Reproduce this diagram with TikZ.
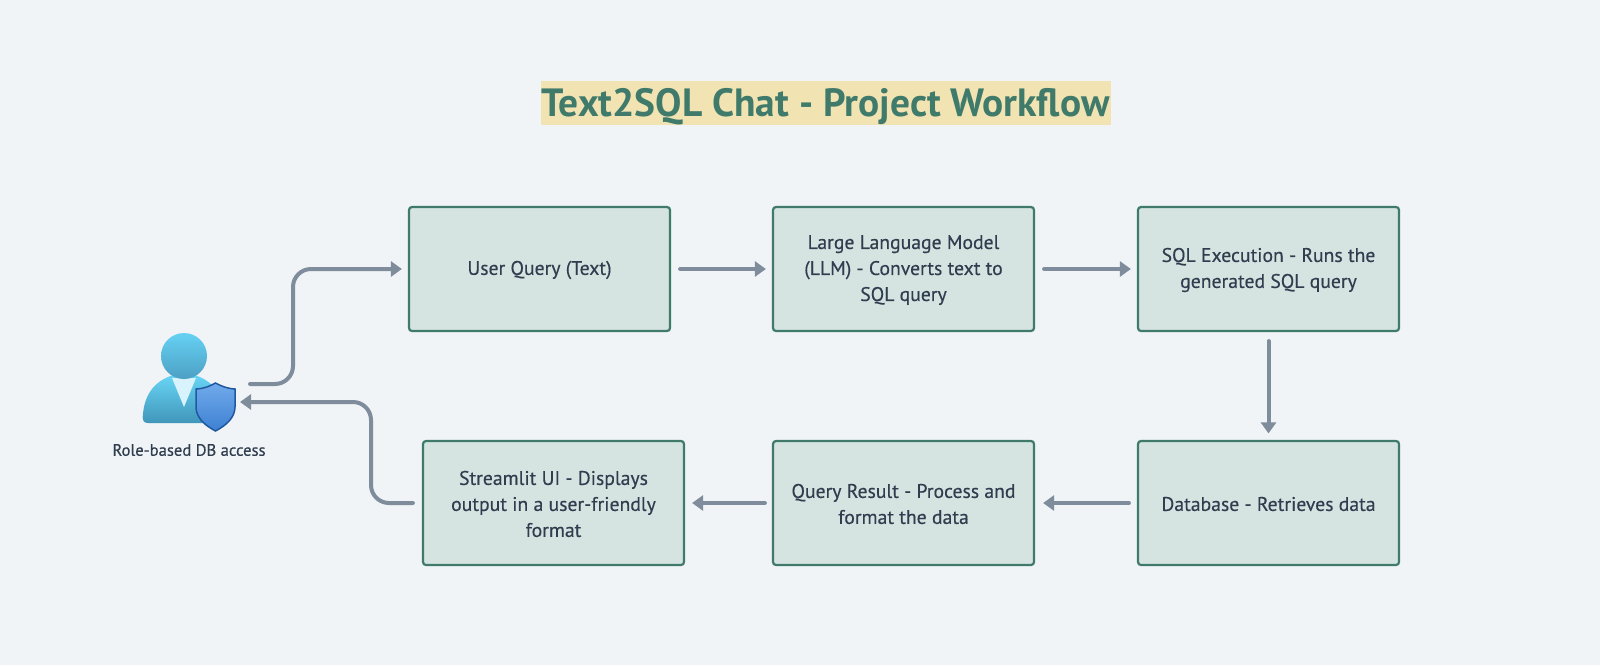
\documentclass[tikz,border=0pt]{standalone}
\usepackage{fontspec}
\setmainfont{PT Sans}
\newfontfamily\medfont[FakeBold=0.35]{PT Sans}
\usetikzlibrary{arrows.meta,shadings}
\definecolor{bg}{HTML}{F0F4F7}
\definecolor{boxfill}{HTML}{D5E4E1}
\definecolor{boxline}{HTML}{3F7A6B}
\definecolor{txt}{HTML}{2F3D4E}
\definecolor{arrowc}{HTML}{7F8C9B}
\definecolor{titlebg}{HTML}{F2E4B2}
\newcommand{\topfix}{\rule{0pt}{16pt}}
\tikzset{
  flowbox/.style={draw=boxline,fill=boxfill,line width=2.2pt,rounded corners=3pt,minimum width=261pt,minimum height=124pt,inner sep=0pt,align=center,text=txt,font=\medfont\fontsize{19.7}{26}\selectfont},
  flow/.style={draw=arrowc,line width=4pt,line cap=round,-{Triangle[length=11pt,width=15pt]},rounded corners=18pt}
}
\begin{document}
\begin{tikzpicture}[x=1pt,y=-1pt]
\useasboundingbox[fill=bg] (0,0) rectangle (1600,665);
\node[fill=titlebg,text=boxline,font=\fontsize{39.4}{42}\selectfont\bfseries,minimum width=570pt,minimum height=44pt,inner sep=0pt,text height=30pt,text depth=2.6pt] (title) at (825.5,103) {Text2SQL Chat - Project Workflow};
\node[flowbox] (query) at (539.5,269) {\topfix User Query (Text)};
\node[flowbox] (llm) at (903.5,269) {\topfix Large Language Model\\(LLM) - Converts text to\\SQL query};
\node[flowbox] (sql) at (1268.5,269) {\topfix SQL Execution - Runs the\\generated SQL query};
\node[flowbox] (db) at (1268.5,503) {\topfix Database - Retrieves data};
\node[flowbox] (result) at (903.5,503) {\topfix Query Result - Process and\\format the data};
\node[flowbox] (ui) at (553.5,503) {\topfix Streamlit UI - Displays\\output in a user-friendly\\format};
% person icon
\shade[top color={rgb,255:red,104;green,212;blue,244},bottom color={rgb,255:red,64;green,150;blue,186}] (142.7,417) .. controls (144,394) and (155,381) .. (172,375.5) -- (196,375.5) .. controls (212,381) and (224,394) .. (225.5,417) .. controls (225.5,421) and (223,423) .. (220,423) -- (148,423) .. controls (144.5,423) and (142.5,421) .. (142.7,417) -- cycle;
\fill[fill={rgb,255:red,216;green,243;blue,251}] (172,378) -- (196,378) -- (184,407) -- cycle;
\shade[top color={rgb,255:red,102;green,209;blue,243},bottom color={rgb,255:red,76;green,160;blue,196}] (184,356) circle[radius=23];
\shade[top color={rgb,255:red,112;green,170;blue,234},bottom color={rgb,255:red,62;green,128;blue,210},draw={rgb,255:red,31;green,88;blue,160},line width=1.5pt] (196,389) .. controls (205,388.5) and (210,386) .. (215.5,383) .. controls (221,386) and (227,388.5) .. (235,389) -- (235,407) .. controls (235,417) and (227,425) .. (215.5,431) .. controls (204,425) and (196,417) .. (196,407) -- cycle;
\node[text=txt,font=\medfont\fontsize{16.6}{18}\selectfont,inner sep=0pt] (rolelabel) at (189,450) {Role-based DB access};
% connector ends
\coordinate (userout) at (250,384);
\coordinate (userin) at (240,402);
\coordinate (c1) at (293,269);
\coordinate (c2) at (371,402);
\coordinate (queryin) at ([xshift=-6pt]query.west);
\coordinate (uiout) at ([xshift=-9pt]ui.west);
\draw[flow] (userout) -| (c1) -- (queryin);
\draw[flow] (uiout) -| (c2) -- (userin);
\draw[flow] ([xshift=9pt]query.east) -- ([xshift=-6pt]llm.west);
\draw[flow] ([xshift=9pt]llm.east) -- ([xshift=-6pt]sql.west);
\draw[flow] ([yshift=-9pt]sql.south) -- ([yshift=6.5pt]db.north);
\draw[flow] ([xshift=-8pt]db.west) -- ([xshift=8pt]result.east);
\draw[flow] ([xshift=-7pt]result.west) -- ([xshift=7pt]ui.east);
\end{tikzpicture}
\end{document}
